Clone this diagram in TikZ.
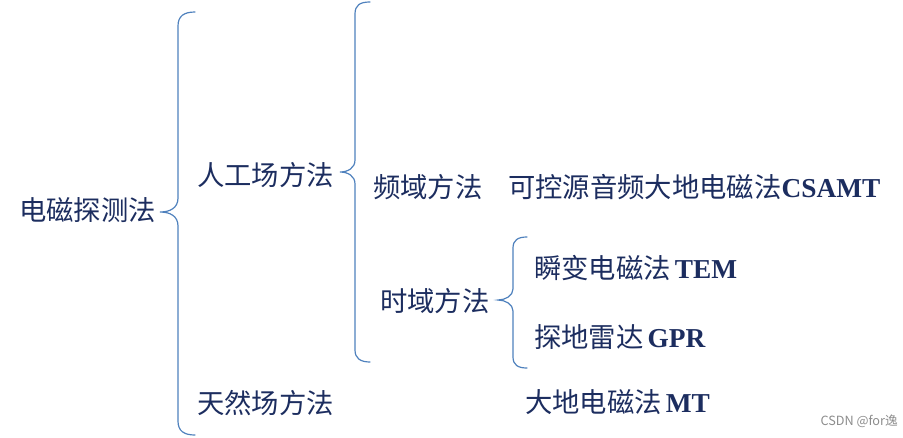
\documentclass[tikz,border=0pt]{standalone}
\usepackage{fontspec}
\setmainfont{Liberation Serif}
\newfontfamily\cjk{Noto Sans CJK SC}
\definecolor{navy}{RGB}{28,45,95}
\definecolor{bracecol}{RGB}{79,129,189}
\tikzset{
  label/.style={anchor=west,inner sep=0pt,text=navy,font=\fontsize{20.5}{24}\selectfont},
  brace/.style={draw=bracecol,line width=0.9pt,line cap=round}
}
\begin{document}
\begin{tikzpicture}[x=0.75pt,y=-0.75pt]
        \useasboundingbox (0,0) rectangle (903,437);
        % text
        \node[label] (method) at (19,210) {\cjk 电磁探测法};
        \node[label] (artificial) at (197,175) {\cjk 人工场方法};
        \node[label] (natural) at (197,403) {\cjk 天然场方法};
        \node[label] (freq) at (373,187) {\cjk 频域方法};
        \node[label] (csamt) at (508,187) {{\cjk 可控源音频大地电磁法}\textbf{CSAMT}};
        \node[label] (time) at (380,301) {\cjk 时域方法};
        \node[label] (tem) at (534,268) {{\cjk 瞬变电磁法}\kern3pt\textbf{TEM}};
        \node[label] (gpr) at (534,337) {{\cjk 探地雷达}\kern3pt\textbf{GPR}};
        \node[label] (mt) at (525,402) {{\cjk 大地电磁法}\kern3pt\textbf{MT}};
        \node[anchor=east,inner sep=0pt,text=black!45,font=\cjk\fontsize{9.5}{11}\selectfont] (mark) at (898,421) {CSDN @for逸};
        % braces
        \coordinate (tip1) at (160,212);
        \coordinate (tip2) at (340,172);
        \coordinate (tip3) at (498,300);
        \draw[brace] (195,12) .. controls (184,12) and (178,16) .. (178,26) -- (178,198)
            .. controls (178,208) and (170,212) .. (tip1)
            .. controls (170,212) and (178,216) .. (178,226) -- (178,421)
            .. controls (178,431) and (184,435) .. (195,435);
        \draw[brace] (370,2) .. controls (360,2) and (355,5) .. (355,14) -- (355,160)
            .. controls (355,168) and (348,172) .. (tip2)
            .. controls (348,172) and (355,176) .. (355,184) -- (355,350)
            .. controls (355,358) and (360,362) .. (370,362);
        \draw[brace] (527,237) .. controls (518,237) and (513,240) .. (513,248) -- (513,289)
            .. controls (513,296) and (505,300) .. (tip3)
            .. controls (505,300) and (513,304) .. (513,311) -- (513,357)
            .. controls (513,365) and (518,368) .. (527,368);
    \end{tikzpicture}
\end{document}
